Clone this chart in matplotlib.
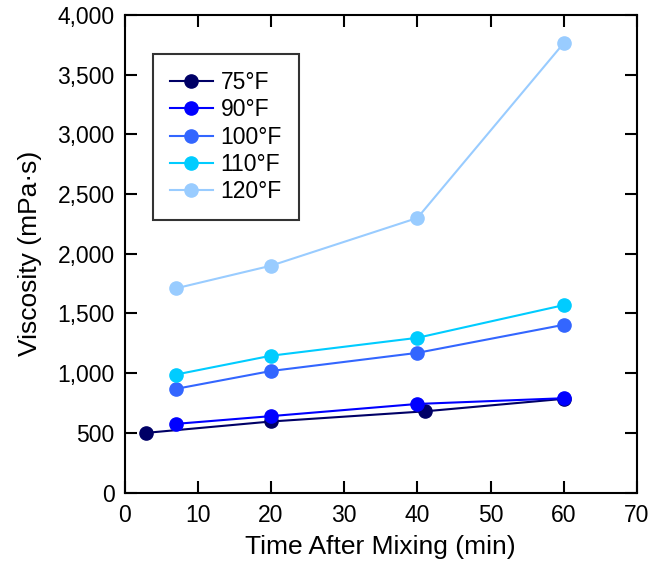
import matplotlib
matplotlib.use("Agg")
import matplotlib.pyplot as plt

plt.rcParams['font.family'] = ['Liberation Sans', 'DejaVu Sans']

# data
labels = ["75°F", "90°F", "100°F", "110°F", "120°F"]
colors = ["#000066", "#0000ff", "#3366ff", "#00ccff", "#99ccff"]

t_75 = [3, 20, 41, 60]
v_75 = [500, 595, 680, 785]
t_90 = [7, 20, 40, 60]
v_90 = [575, 640, 742, 790]
t_100 = [7, 20, 40, 60]
v_100 = [868, 1018, 1170, 1405]
t_110 = [7, 20, 40, 60]
v_110 = [988, 1146, 1296, 1570]
t_120 = [7, 20, 40, 60]
v_120 = [1710, 1900, 2300, 3765]

series = [(t_75, v_75), (t_90, v_90), (t_100, v_100), (t_110, v_110), (t_120, v_120)]

fig = plt.figure(figsize=(6.52, 5.69), dpi=100)
ax = fig.add_axes([0.191, 0.1344, 0.786, 0.8392])

for (t, v), lab, c in zip(series, labels, colors):
    ax.plot(t, v, color=c, lw=1.5, marker='o', ms=9.5, label=lab)

ax.set_xlim(0, 70)
ax.set_ylim(0, 4000)
ax.set_xticks(range(0, 71, 10))
ax.set_yticks(range(0, 4001, 500))
ax.set_yticklabels([f"{y:,}" for y in range(0, 4001, 500)])
ax.tick_params(direction='in', length=8.5, width=1.5, labelsize=16.5,
               top=True, right=True)
ax.tick_params(axis='y', pad=7)
ax.tick_params(axis='x', pad=8)
for s in ax.spines.values():
    s.set_linewidth(1.5)

ax.set_xlabel("Time After Mixing (min)", fontsize=19, labelpad=6)
ax.set_ylabel("Viscosity (mPa·s)", fontsize=19, labelpad=11)

leg = ax.legend(loc='upper left', bbox_to_anchor=(0.0556, 0.918), fontsize=16.5,
                frameon=True, fancybox=False, edgecolor='black',
                handlelength=1.85, handletextpad=0.35,
                labelspacing=0.18, borderpad=0.75, borderaxespad=0)
leg.get_frame().set_linewidth(1.5)

fig.savefig("out.png", dpi=100)
